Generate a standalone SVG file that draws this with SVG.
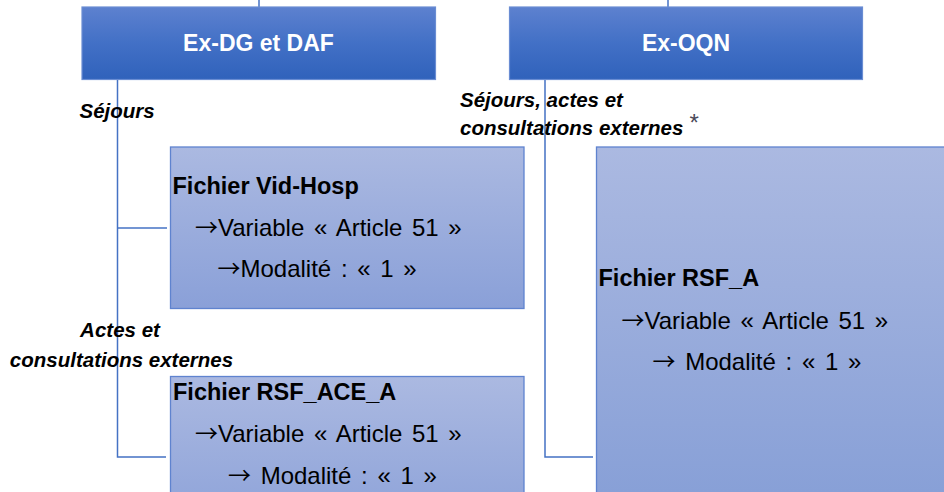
<svg xmlns="http://www.w3.org/2000/svg" width="944" height="492" viewBox="0 0 944 492">
<defs>
<linearGradient id="gTop" x1="0" y1="0" x2="0" y2="1">
<stop offset="0" stop-color="#5d81cf"/>
<stop offset="0.5" stop-color="#4270c6"/>
<stop offset="1" stop-color="#3062bb"/>
</linearGradient>
<linearGradient id="gLow" x1="0" y1="0" x2="0" y2="1">
<stop offset="0" stop-color="#abb9e1"/>
<stop offset="1" stop-color="#8aa0d8"/>
</linearGradient>
<linearGradient id="gBig" gradientUnits="userSpaceOnUse" x1="0" y1="147" x2="0" y2="492">
<stop offset="0" stop-color="#abb9e1"/>
<stop offset="1" stop-color="#88a0d7"/>
</linearGradient>
<linearGradient id="gAce" gradientUnits="userSpaceOnUse" x1="0" y1="377" x2="0" y2="540">
<stop offset="0" stop-color="#abb9e1"/>
<stop offset="1" stop-color="#8aa0d8"/>
</linearGradient>
</defs>
<style>
.conn{fill:none;stroke:#4472c4;stroke-width:1.5}
.top{fill:url(#gTop);stroke:#6a8dd3;stroke-width:1.2}
.low{stroke:#5f83cf;stroke-width:1.3}
.head{font-family:"Liberation Sans",Arial,sans-serif;font-weight:bold;font-size:23px;fill:#ffffff;text-anchor:middle}
.lab{font-family:"Liberation Sans",Arial,sans-serif;font-weight:bold;font-style:italic;font-size:20.5px;fill:#000000}
.ttl{font-family:"Liberation Sans",Arial,sans-serif;font-weight:bold;font-size:23.5px;fill:#000000}
.txt{font-family:"Liberation Sans",Arial,sans-serif;font-size:24px;word-spacing:3px;fill:#000000}
.arr{font-family:"Noto Sans CJK SC","DejaVu Sans",sans-serif;font-size:23px}
.ast{font-family:"Liberation Sans",Arial,sans-serif;font-size:24px;fill:#4a4a5a}
</style>
<rect width="944" height="492" fill="#ffffff"/>
<g id="connectors">
<line class="conn" x1="259" y1="0" x2="259" y2="7"/>
<line class="conn" x1="668" y1="0" x2="668" y2="7"/>
<polyline class="conn" points="117.5,79.5 117.5,457 166,457"/>
<line class="conn" x1="117.5" y1="228" x2="167" y2="228"/>
<polyline class="conn" points="545,79.5 545,457 593,457"/>
</g>
<g id="ex-dg-daf">
<rect class="top" x="82" y="7" width="353.5" height="72.5"/>
<text class="head" x="258.5" y="51">Ex-DG et DAF</text>
</g>
<g id="ex-oqn">
<rect class="top" x="509.5" y="7" width="353" height="72.5"/>
<text class="head" x="686" y="51">Ex-OQN</text>
</g>
<g id="label-sejours">
<text class="lab" x="79.5" y="118">Séjours</text>
</g>
<g id="label-sejours-actes">
<text class="lab" x="460" y="107">Séjours, actes et</text>
<text class="lab" x="460" y="135">consultations externes</text>
<text class="ast" x="689.5" y="130.5">*</text>
</g>
<g id="label-actes">
<text class="lab" x="120" y="337" text-anchor="middle">Actes et</text>
<text class="lab" x="121.5" y="366.5" text-anchor="middle">consultations externes</text>
</g>
<g id="fichier-vid-hosp">
<rect class="low" fill="url(#gLow)" x="170.5" y="147" width="353.5" height="161.5"/>
<text class="ttl" x="172.5" y="193.5">Fichier Vid-Hosp</text>
<text class="txt" x="195" y="235.5"><tspan class="arr">→</tspan>Variable « Article 51 »</text>
<text class="txt" x="217.5" y="277"><tspan class="arr">→</tspan>Modalité : « 1 »</text>
</g>
<g id="fichier-rsf-ace-a">
<rect class="low" fill="url(#gAce)" x="170.5" y="376.5" width="353.5" height="130"/>
<text class="ttl" x="173" y="399.5">Fichier RSF_ACE_A</text>
<text class="txt" x="195" y="442"><tspan class="arr">→</tspan>Variable « Article 51 »</text>
<text class="txt" x="228" y="483.5"><tspan class="arr">→</tspan> Modalité : « 1 »</text>
</g>
<g id="fichier-rsf-a">
<rect class="low" fill="url(#gBig)" x="596.5" y="147" width="360" height="360"/>
<text class="ttl" x="598.5" y="286">Fichier RSF_A</text>
<text class="txt" x="621.5" y="328.5"><tspan class="arr">→</tspan>Variable « Article 51 »</text>
<text class="txt" x="652.5" y="370"><tspan class="arr">→</tspan> Modalité : « 1 »</text>
</g>
</svg>
